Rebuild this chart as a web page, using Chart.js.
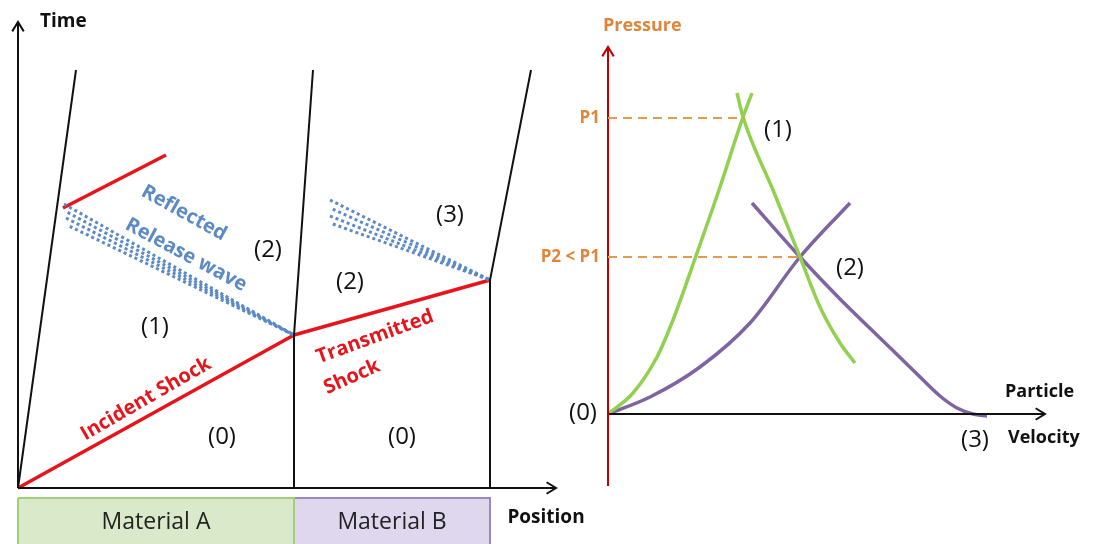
<!DOCTYPE html>
<html>
<head>
<meta charset="utf-8">
<script src="https://cdn.jsdelivr.net/npm/chart.js@4.4.1/dist/chart.umd.min.js"></script>
<style>
body { margin: 0; background: #fff; }
#wrap { position: relative; width: 1098px; height: 544px; overflow: hidden; }
canvas { position: absolute; left: 0; top: 0; }
</style>
</head>
<body>
<div id="wrap">
  <canvas id="xt" width="1098" height="544"></canvas>
  <canvas id="pu" width="1098" height="544"></canvas>
</div>
<script>
// ---- Position / time diagram (left) ----
var timeAxis = [[0, 0], [0, 466]];
var positionAxis = [[0, 0], [538, 0]];
var surfaceA = [[0, 0], [58, 418]];
var interfaceAB = [[276, 0], [276, 153], [295, 418]];
var surfaceB = [[472, 0], [472, 208], [513, 418]];
var incidentShock = [[0, 0], [276, 153]];
var transmittedShock = [[276, 153], [472, 208]];
var reflectedShock = [[45, 280], [148, 333]];
var releaseA = [[[46, 284], [276, 153]], [[47, 277], [276, 153]], [[48, 270], [276, 153]], [[49, 263], [276, 153]]];
var releaseB = [[[312, 288], [472, 208]], [[312, 280], [472, 208]], [[312, 272], [472, 208]], [[312, 265], [472, 208]]];
var materialA = [[0, -10], [276, -10], [276, -90], [0, -90], [0, -10]];
var materialB = [[276, -10], [472, -10], [472, -90], [276, -90], [276, -10]];

var F = "'Open Sans'";
var leftLabels = [
  { text: "Time", x: 22, y: 466, font: "bold 19px " + F, color: "#111", align: "left" },
  { text: "Position", x: 528, y: -30, font: "bold 19px " + F, color: "#111" },
  { text: "Material A", x: 138, y: -34, font: "23px " + F, color: "#222" },
  { text: "Material B", x: 374, y: -34, font: "23px " + F, color: "#222" },
  { text: "(1)", x: 137, y: 161, font: "24px " + F, color: "#111" },
  { text: "(2)", x: 250, y: 238, font: "24px " + F, color: "#111" },
  { text: "(2)", x: 332, y: 206, font: "24px " + F, color: "#111" },
  { text: "(3)", x: 432, y: 273, font: "24px " + F, color: "#111" },
  { text: "(0)", x: 204, y: 51, font: "24px " + F, color: "#111" },
  { text: "(0)", x: 384, y: 51, font: "24px " + F, color: "#111" },
  { text: "Reflected", x: 166, y: 275, font: "bold 20px " + F, color: "#5b8ac6", rot: 29 },
  { text: "Release wave", x: 168, y: 233, font: "bold 20px " + F, color: "#5b8ac6", rot: 28 },
  { text: "Incident Shock", x: 128, y: 89, font: "bold 20px " + F, color: "#e8141b", rot: -30 },
  { text: "Transmitted", x: 357, y: 151, font: "bold 20px " + F, color: "#e8141b", rot: -20 },
  { text: "Shock", x: 334, y: 111, font: "bold 20px " + F, color: "#e8141b", rot: -24 }
];

// ---- Pressure / particle velocity diagram (right) ----
var pressureAxis = [[0, -72], [0, 367]];
var velocityAxis = [[0, 0], [437, 0]];
var p1Line = [[0, 296], [137, 296]];
var p2Line = [[0, 157], [190, 157]];
var hugoniotA = [[0, 0], [25, 21], [49, 57], [65, 94], [89, 161], [112, 227], [135, 297], [144, 321]];
var releaseCurveA = [[129, 321], [135, 297], [165, 224], [192, 157], [212, 107], [232, 71], [247, 51]];
var hugoniotB = [[0, 0], [42, 17], [92, 47], [142, 91], [192, 157], [242, 211]];
var releaseCurveB = [[144, 211], [192, 157], [232, 115], [272, 76], [309, 40], [332, 18], [349, 6], [365, 0], [379, -2]];

var rightLabels = [
  { text: "Pressure", x: -5, y: 388, font: "bold 18px " + F, color: "#e0853a", align: "left" },
  { text: "P1", x: -8, y: 296, font: "bold 17px " + F, color: "#e0853a", align: "right" },
  { text: "P2 < P1", x: -8, y: 157, font: "bold 17px " + F, color: "#e0853a", align: "right" },
  { text: "(1)", x: 170, y: 284, font: "24px " + F, color: "#111" },
  { text: "(2)", x: 242, y: 146, font: "24px " + F, color: "#111" },
  { text: "(0)", x: -25, y: 1, font: "24px " + F, color: "#111" },
  { text: "(3)", x: 367, y: -26, font: "24px " + F, color: "#111" },
  { text: "Particle", x: 397, y: 22, font: "bold 18px " + F, color: "#111", align: "left" },
  { text: "Velocity", x: 400, y: -24, font: "bold 18px " + F, color: "#111", align: "left" }
];

function pts(a) { return a.map(function (p) { return { x: p[0], y: p[1] }; }); }

function line(data, color, width, extra) {
  var ds = { data: pts(data), borderColor: color, borderWidth: width, pointRadius: 0,
             showLine: true, fill: false, tension: 0 };
  for (var k in extra) ds[k] = extra[k];
  return ds;
}

// arrow heads on the last segment of datasets flagged with arrow
var arrowPlugin = {
  id: "arrows",
  afterDatasetsDraw: function (chart) {
    var ctx = chart.ctx;
    chart.data.datasets.forEach(function (ds, i) {
      if (!ds.arrow) return;
      var el = chart.getDatasetMeta(i).data;
      var a = el[el.length - 2], b = el[el.length - 1];
      var ang = Math.atan2(b.y - a.y, b.x - a.x);
      var len = 11, spread = 0.55;
      ctx.save();
      ctx.strokeStyle = ds.borderColor;
      ctx.lineWidth = ds.borderWidth;
      ctx.beginPath();
      ctx.moveTo(b.x - len * Math.cos(ang - spread), b.y - len * Math.sin(ang - spread));
      ctx.lineTo(b.x, b.y);
      ctx.lineTo(b.x - len * Math.cos(ang + spread), b.y - len * Math.sin(ang + spread));
      ctx.stroke();
      ctx.restore();
    });
  }
};

var labelPlugin = {
  id: "labels",
  afterDatasetsDraw: function (chart) {
    var ctx = chart.ctx, sx = chart.scales.x, sy = chart.scales.y;
    (chart.options.plugins.labels.items || []).forEach(function (l) {
      ctx.save();
      ctx.translate(sx.getPixelForValue(l.x), sy.getPixelForValue(l.y));
      if (l.rot) ctx.rotate(l.rot * Math.PI / 180);
      ctx.font = l.font;
      ctx.fillStyle = l.color;
      ctx.textAlign = l.align || "center";
      ctx.textBaseline = "middle";
      ctx.fillText(l.text, 0, 0);
      ctx.restore();
    });
  }
};

function baseOptions(xmin, xmax, ymin, ymax, labels) {
  return {
    responsive: false,
    animation: false,
    layout: { padding: 0 },
    plugins: { legend: { display: false }, tooltip: { enabled: false }, labels: { items: labels } },
    scales: {
      x: { type: "linear", display: false, min: xmin, max: xmax },
      y: { type: "linear", display: false, min: ymin, max: ymax }
    }
  };
}

var leftSets = [
  line(materialA, "#a3cf78", 2, { fill: "shape", backgroundColor: "#dae9c9" }),
  line(materialB, "#9987c6", 2, { fill: "shape", backgroundColor: "#dfd7ed" }),
  line(timeAxis, "#111", 2, { arrow: true }),
  line(positionAxis, "#111", 2, { arrow: true }),
  line(surfaceA, "#111", 2),
  line(interfaceAB, "#111", 2),
  line(surfaceB, "#111", 2)
];
releaseA.concat(releaseB).forEach(function (r, i) {
  leftSets.push(line(r, "#5b8ac6", 3, { borderDash: [3, 3], borderDashOffset: (i % 2) * 3 }));
});
leftSets.push(line(incidentShock, "#e8141b", 3.5));
leftSets.push(line(transmittedShock, "#e8141b", 3.5));
leftSets.push(line(reflectedShock, "#e8141b", 3.5));

new Chart(document.getElementById("xt"), {
  type: "scatter",
  data: { datasets: leftSets },
  options: baseOptions(-18, 1080, -56, 488, leftLabels),
  plugins: [arrowPlugin, labelPlugin]
});

var smooth = { cubicInterpolationMode: "monotone" };
new Chart(document.getElementById("pu"), {
  type: "scatter",
  data: {
    datasets: [
      line(p1Line, "#e9994f", 2, { borderDash: [9, 6] }),
      line(p2Line, "#e9994f", 2, { borderDash: [9, 6] }),
      line(pressureAxis, "#c00000", 2, { arrow: true }),
      line(velocityAxis, "#111", 2, { arrow: true }),
      line(hugoniotA, "#92d050", 3.5, smooth),
      line(releaseCurveA, "#92d050", 3.5, smooth),
      line(hugoniotB, "#8064a2", 3.5, smooth),
      line(releaseCurveB, "#8064a2", 3.5, smooth)
    ]
  },
  options: baseOptions(-608, 490, -130, 414, rightLabels),
  plugins: [arrowPlugin, labelPlugin]
});
</script>
</body>
</html>
